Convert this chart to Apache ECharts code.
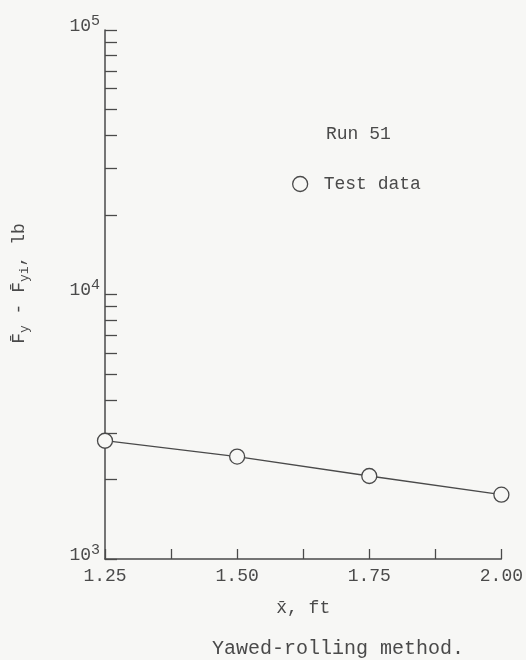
<!DOCTYPE html>
<html><head><meta charset="utf-8">
<script src="https://cdn.jsdelivr.net/npm/echarts@6/dist/echarts.min.js"></script>
<style>html,body{margin:0;padding:0;background:#f7f7f5}#c{width:526px;height:660px}</style>
</head><body><div id="c"></div>
<script>
const xValues = [1.25, 1.50, 1.75, 2.00];
const yValues = [2800, 2440, 2060, 1750];
const xLabelValues = [1.25, 1.50, 1.75, 2.00];
const xTickValues = [1.25, 1.375, 1.5, 1.625, 1.75, 1.875, 2.0];
const yLabelValues = [1000, 10000, 100000];
const yTickValues = [1000,2000,3000,4000,5000,6000,7000,8000,9000,10000,20000,30000,40000,50000,60000,70000,80000,90000,100000];
const seriesName = 'Test data';
const runLabel = 'Run 51';

const ink = '#4a4a4a';
const font = '"Liberation Mono", "DejaVu Sans Mono", monospace';
const chart = echarts.init(document.getElementById('c'));
chart.setOption({
  backgroundColor: '#f7f7f5',
  animation: false,
  textStyle: { fontFamily: font, color: ink },
  grid: { left: 105, right: 23, top: 30, bottom: 101 },
  title: [
    { text: runLabel, left: 321, top: 120, textStyle: { fontFamily: font, fontSize: 18, fontWeight: 'normal', color: ink } },
    { text: 'Yawed-rolling method.', left: 207, top: 634, textStyle: { fontFamily: font, fontSize: 20, fontWeight: 'normal', color: ink } }
  ],
  legend: {
    left: 287, top: 170, itemWidth: 15, itemHeight: 15, itemGap: 10,
    data: [{ name: seriesName, icon: 'circle', itemStyle: { color: 'transparent', borderColor: ink, borderWidth: 1.3 } }],
    textStyle: { fontFamily: font, fontSize: 18, color: ink, padding: [0, 0, 0, 11] }
  },
  xAxis: {
    type: 'value', min: 1.25, max: 2.0, interval: 0.125,
    name: 'x\u0304, ft', nameLocation: 'middle', nameGap: 40,
    nameTextStyle: { fontFamily: font, fontSize: 18, color: ink },
    axisLine: { lineStyle: { color: ink, width: 1.5 } },
    axisTick: { inside: true, length: 10, customValues: xTickValues, lineStyle: { color: ink, width: 1.3 } },
    axisLabel: { customValues: xLabelValues, formatter: v => v.toFixed(2), fontFamily: font, fontSize: 18, color: ink, margin: 8 },
    splitLine: { show: false }
  },
  yAxis: {
    type: 'log', logBase: 10, min: 1000, max: 100000,
    name: '{n|F\u0304}{s|y}{n| - F\u0304}{s|yi}{n|, lb}', nameLocation: 'middle', nameGap: 74, nameRotate: 90,
    nameTextStyle: { fontFamily: font, color: ink, padding: [0, 0, 0, 22], rich: {
      n: { fontFamily: font, fontSize: 18, color: ink },
      s: { fontFamily: font, fontSize: 13, color: ink, verticalAlign: 'top', padding: [10, 0, 0, 0] }
    } },
    axisLine: { show: true, lineStyle: { color: ink, width: 1.5 } },
    axisTick: { inside: true, length: 12, customValues: yTickValues, lineStyle: { color: ink, width: 1.3 } },
    axisLabel: {
      customValues: yLabelValues,
      formatter: v => '{b|10}{e|' + Math.round(Math.log10(v)) + '}',
      margin: 5,
      padding: [0, 0, 8, 0],
      rich: {
        b: { fontFamily: font, fontSize: 18, color: ink },
        e: { fontFamily: font, fontSize: 15, color: ink, verticalAlign: 'bottom', padding: [0, 0, 10, 0] }
      }
    },
    splitLine: { show: false }
  },
  series: [{
    name: seriesName, type: 'line',
    data: xValues.map((x, i) => [x, yValues[i]]),
    symbol: 'circle', symbolSize: 15,
    itemStyle: { color: '#f7f7f5', borderColor: ink, borderWidth: 1.3 },
    lineStyle: { color: ink, width: 1.3 }
  }]
});
</script></body></html>
